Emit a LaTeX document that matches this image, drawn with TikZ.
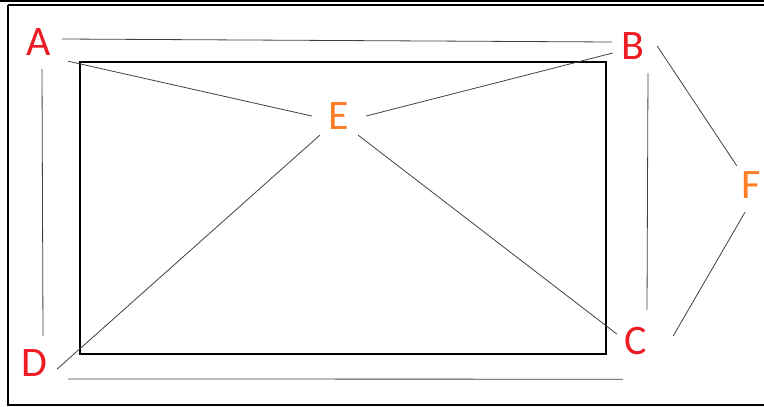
\documentclass[tikz,border=0pt]{standalone}
\usepackage{fontspec}
\setmainfont{Carlito}
\definecolor{ptred}{RGB}{237,28,36}
\definecolor{ptorange}{RGB}{255,127,39}

\begin{document}
\begin{tikzpicture}[x=1pt, y=-1pt,
  every node/.style={font=\fontsize{42}{42}\selectfont, circle, minimum size=54pt, inner sep=0pt},
  corner/.style={text=ptred},
  middle/.style={text=ptorange},
  link/.style={line width=.8pt, black!75}]
\useasboundingbox (0,0) rectangle (764,407);
% window frame
\draw[line width=2pt] (0,1) -- (770,1);
\draw[line width=1.2pt] (8,5) -- (770,5);
\draw[line width=1.2pt] (8,5) -- (8,405) -- (770,405);
% big rectangle
\draw[line width=2.4pt] (80,62) rectangle (606,354);
% letters
\node[corner] (A) at (39,42) {A};
\node[corner] (B) at (633,46) {B};
\node[corner] (C) at (636,341) {C};
\node[corner] (D) at (34,363) {D};
\node[middle] (E) at (339,116) {E};
\node[middle] (F) at (751,185) {F};
% outer links
\draw[link] ([shift={(-4pt,3pt)}]A.east) -- ([shift={(6pt,4pt)}]B.west);
\draw[link] ([xshift=3pt]A.south) -- ([xshift=9pt]D.north);
\draw[link] ([xshift=15pt]B.south) -- ([xshift=11pt,yshift=4pt]C.north);
\draw[link] ([shift={(7pt,-16pt)}]D.east) -- ([shift={(-13pt,-11pt)}]C.south);
\draw[link] ([xshift=-3pt]B.east) -- ([xshift=5pt]F.north west);
\draw[link] ([xshift=-6pt]F.south) -- ([shift={(10pt,5pt)}]C.east);
% links to E
\draw[link] ([xshift=10pt]A.south east) -- (E.west);
\draw[link] ([shift={(7pt,-7pt)}]B.west) -- (E.east);
\draw[link] ([shift={(-4pt,-6pt)}]D.east) -- (E.south west);
\draw[link] ([shift={(8pt,7pt)}]C.west) -- (E.south east);
\end{tikzpicture}
\end{document}
